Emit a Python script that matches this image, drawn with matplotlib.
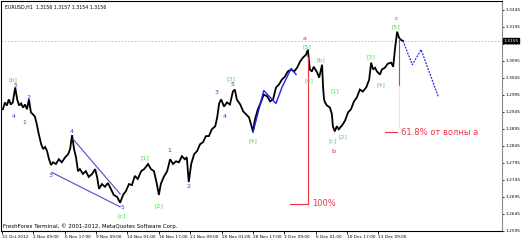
import matplotlib
matplotlib.use("Agg")
import matplotlib.pyplot as plt

# EURUSD H1, bar index (hours, weekends skipped) and price
bars = [2, 6, 10, 14, 18, 22, 27, 31, 35, 39, 43, 47, 51, 55, 59, 63, 67, 71, 75, 80,
        84, 88, 92, 96, 100, 104, 110, 116, 122, 129, 135, 139, 143, 147, 151, 155, 159,
        165, 171, 177, 184, 190, 194, 198, 204, 210, 216, 222, 228, 235, 241, 247, 253,
        259, 265, 271, 277, 284, 290, 298, 304, 310, 316, 320, 324, 330, 337, 343, 349,
        355, 361, 367, 373, 377, 381, 386, 392, 398, 404, 410, 416, 422, 428, 435, 439,
        443, 447, 453, 459, 465, 471, 475, 479, 486, 492, 498, 504, 508, 512, 516, 522,
        528, 534, 541, 547, 553, 559, 565, 571, 577, 583, 590, 596, 602, 608, 614, 620,
        624, 628, 632, 636, 643, 647, 653, 655, 657, 659, 663, 669, 673, 675, 679, 683,
        687, 694, 700, 706, 712, 718, 724, 730, 736, 743, 749, 753, 757, 761, 765, 771,
        775, 781, 787, 794, 798, 802, 806, 810, 814, 818]
price = [1.2953, 1.2973, 1.2964, 1.2982, 1.2967, 1.2973, 1.3017, 1.2982, 1.2964, 1.2970,
         1.2958, 1.2967, 1.2953, 1.2982, 1.2944, 1.2938, 1.2932, 1.2909, 1.2880, 1.2850,
         1.2836, 1.2842, 1.2830, 1.2806, 1.2789, 1.2797, 1.2792, 1.2806, 1.2797, 1.2812,
         1.2821, 1.2836, 1.2877, 1.2836, 1.2812, 1.2771, 1.2777, 1.2763, 1.2771, 1.2754,
         1.2763, 1.2777, 1.2754, 1.2719, 1.2733, 1.2725, 1.2736, 1.2719, 1.2701, 1.2695,
         1.2678, 1.2701, 1.2713, 1.2733, 1.2730, 1.2757, 1.2748, 1.2771, 1.2777, 1.2792,
         1.2777, 1.2771, 1.2733, 1.2701, 1.2733, 1.2754, 1.2771, 1.2806, 1.2792, 1.2800,
         1.2797, 1.2815, 1.2806, 1.2812, 1.2739, 1.2792, 1.2821, 1.2830, 1.2850, 1.2856,
         1.2874, 1.2874, 1.2894, 1.2903, 1.2929, 1.2970, 1.2982, 1.2961, 1.2973, 1.2967,
         1.3005, 1.3011, 1.2982, 1.2967, 1.2947, 1.2938, 1.2929, 1.2909, 1.2888, 1.2923,
         1.2953, 1.2973, 1.2996, 1.2991, 1.2976, 1.2982, 1.3017, 1.3026, 1.3040, 1.3049,
         1.3064, 1.3070, 1.3064, 1.3075, 1.3093, 1.3105, 1.3113, 1.3128, 1.3070, 1.3064,
         1.3078, 1.3061, 1.3046, 1.3084, 1.3017, 1.2982, 1.2973, 1.2964, 1.2958, 1.2938,
         1.2903, 1.2888, 1.2903, 1.2894, 1.2906, 1.2920, 1.2944, 1.2953, 1.2976, 1.2988,
         1.3011, 1.3005, 1.3017, 1.3040, 1.3090, 1.3070, 1.3075, 1.3064, 1.3055, 1.3070,
         1.3075, 1.3087, 1.3090, 1.3078, 1.3134, 1.3181, 1.3163, 1.3157, 1.3154]

last_price = 1.3155
ytick_vals = [1.2595, 1.2645, 1.2695, 1.2745, 1.2795, 1.2845, 1.2895, 1.2945,
              1.2995, 1.3045, 1.3095, 1.3145, 1.3195, 1.3245]
xtick_bars = [0, 64, 128, 192, 256, 320, 384, 448, 512, 576, 640, 704, 768]
xtick_labels = ["31 Oct 2012", "2 Nov 09:00", "6 Nov 17:00", "9 Nov 09:00",
                "14 Nov 01:00", "16 Nov 17:00", "21 Nov 09:00", "26 Nov 01:00",
                "28 Nov 17:00", "3 Dec 09:00", "6 Dec 01:00", "10 Dec 17:00",
                "13 Dec 09:00"]

# wave markup: text, bar, price, colour kind
wave_labels = [
    ("[b]", 22, 1.3040, "g"), ("5", 27, 1.3023, "b"), ("4", 24, 1.2932, "b"),
    ("2", 55, 1.2988, "b"), ("1", 45, 1.2914, "b"), ("3", 98, 1.2757, "b"),
    ("4", 143, 1.2888, "b"), ("5", 245, 1.2663, "b"), ("[c]", 245, 1.2640, "g"),
    ("[1]", 292, 1.2809, "g"), ("[2]", 320, 1.2669, "g"), ("1", 341, 1.2833, "b"),
    ("2", 381, 1.2725, "b"), ("3", 437, 1.3002, "b"), ("[3]", 467, 1.3043, "g"),
    ("5", 471, 1.3026, "b"), ("4", 455, 1.2932, "b"), ("[4]", 512, 1.2859, "g"),
    ("a", 618, 1.3160, "r"), ("[5]", 622, 1.3137, "g"), ("[4]", 626, 1.3037, "g"),
    ("[b]", 651, 1.3099, "g"), ("[1]", 679, 1.3008, "g"), ("[c]", 675, 1.2859, "g"),
    ("b", 677, 1.2830, "r"), ("[2]", 696, 1.2871, "g"), ("[3]", 753, 1.3108, "g"),
    ("[4]", 773, 1.3026, "g"), ("[5]", 804, 1.3195, "g"), ("c", 804, 1.3219, "r"),
]
colors = {"g": "#44dd44", "b": "#3a3adf", "r": "#ee1c1c"}

# wedge lines, middle zigzag and forecast path
wedge1_bars, wedge1_price = [102, 241], [1.2767, 1.2666]
wedge2_bars, wedge2_price = [145, 241], [1.2865, 1.2704]
zig_bars = [512, 534, 559, 571, 590, 600]
zig_price = [1.2885, 1.3008, 1.2970, 1.3017, 1.3073, 1.3055]
fc_bars = [818, 837, 855, 890]
fc_price = [1.3154, 1.3084, 1.3128, 1.2990]

# Fibonacci markers
a_top, a_low = 1.3108, 1.2675
c_top, fib_mid, fib_618 = 1.3157, 1.3023, 1.2885

fig = plt.figure(figsize=(5.22, 2.41), dpi=100)
ax = fig.add_axes([1 / 522, 10 / 241, 501 / 522, 230 / 241])

ax.axhline(last_price, color="#bbbbbb", lw=0.6, ls=(0, (2, 2)))
ax.plot(bars, price, color="black", lw=1.3, solid_joinstyle="miter")

ax.plot(wedge1_bars, wedge1_price, color="#4b4bcf", lw=0.8)
ax.plot(wedge2_bars, wedge2_price, color="#4b4bcf", lw=0.8)
ax.plot(zig_bars, zig_price, color="#2222ee", lw=1.0)
ax.plot(fc_bars, fc_price, color="#2222ee", lw=0.9, ls=(0, (1.5, 1)))

red = "#ee3344"
ax.plot([624, 624], [a_top, a_low], color=red, lw=0.8)
ax.plot([588, 624], [a_low, a_low], color=red, lw=0.8)
ax.text(632, a_low, "100%", color=red, fontsize=6, va="center")
ax.plot([810, 810], [c_top, fib_mid], color=red, lw=0.8)
ax.plot([810, 810], [fib_mid, 1.2894], color="#bbbbbb", lw=0.6, ls=(0, (1, 1.5)))
ax.plot([781, 806], [fib_618, fib_618], color=red, lw=0.8)
ax.text(814, fib_618, "61.8% от волны а", color=red, fontsize=6, va="center")

for txt, b, p, c in wave_labels:
    ax.text(b, p, txt, color=colors[c], fontsize=4.5, ha="center", va="center")

ax.set_xlim(-2, 1020)
ax.set_ylim(1.25988, 1.32713)
ax.set_xticks(xtick_bars)
ax.set_xticklabels(xtick_labels, fontsize=3.1, ha="left")
ax.yaxis.tick_right()
ax.set_yticks(ytick_vals)
ax.set_yticklabels(["%.4f" % v for v in ytick_vals], fontsize=3.1)
ax.tick_params(axis="x", length=2, width=0.6, pad=1.2)
ax.tick_params(axis="y", length=1.5, width=0.6, pad=1.0)
for s in ax.spines.values():
    s.set_linewidth(0.8)
ax.spines["right"].set_color("#888888")

ax.text(0.008, 0.985, "EURUSD,H1  1.3156 1.3157 1.3154 1.3156", transform=ax.transAxes,
        fontsize=3.4, va="top", ha="left")
ax.text(0.004, 0.01, "FreshForex Terminal, © 2001-2012, MetaQuotes Software Corp.",
        transform=ax.transAxes, fontsize=4, va="bottom", ha="left")
ax.text(1.003, last_price, "%.4f" % last_price, transform=ax.get_yaxis_transform(),
        fontsize=3.1, color="white", va="center", ha="left",
        bbox=dict(boxstyle="square,pad=0.1", fc="black", ec="black"))

fig.savefig("out.png", dpi=100)
